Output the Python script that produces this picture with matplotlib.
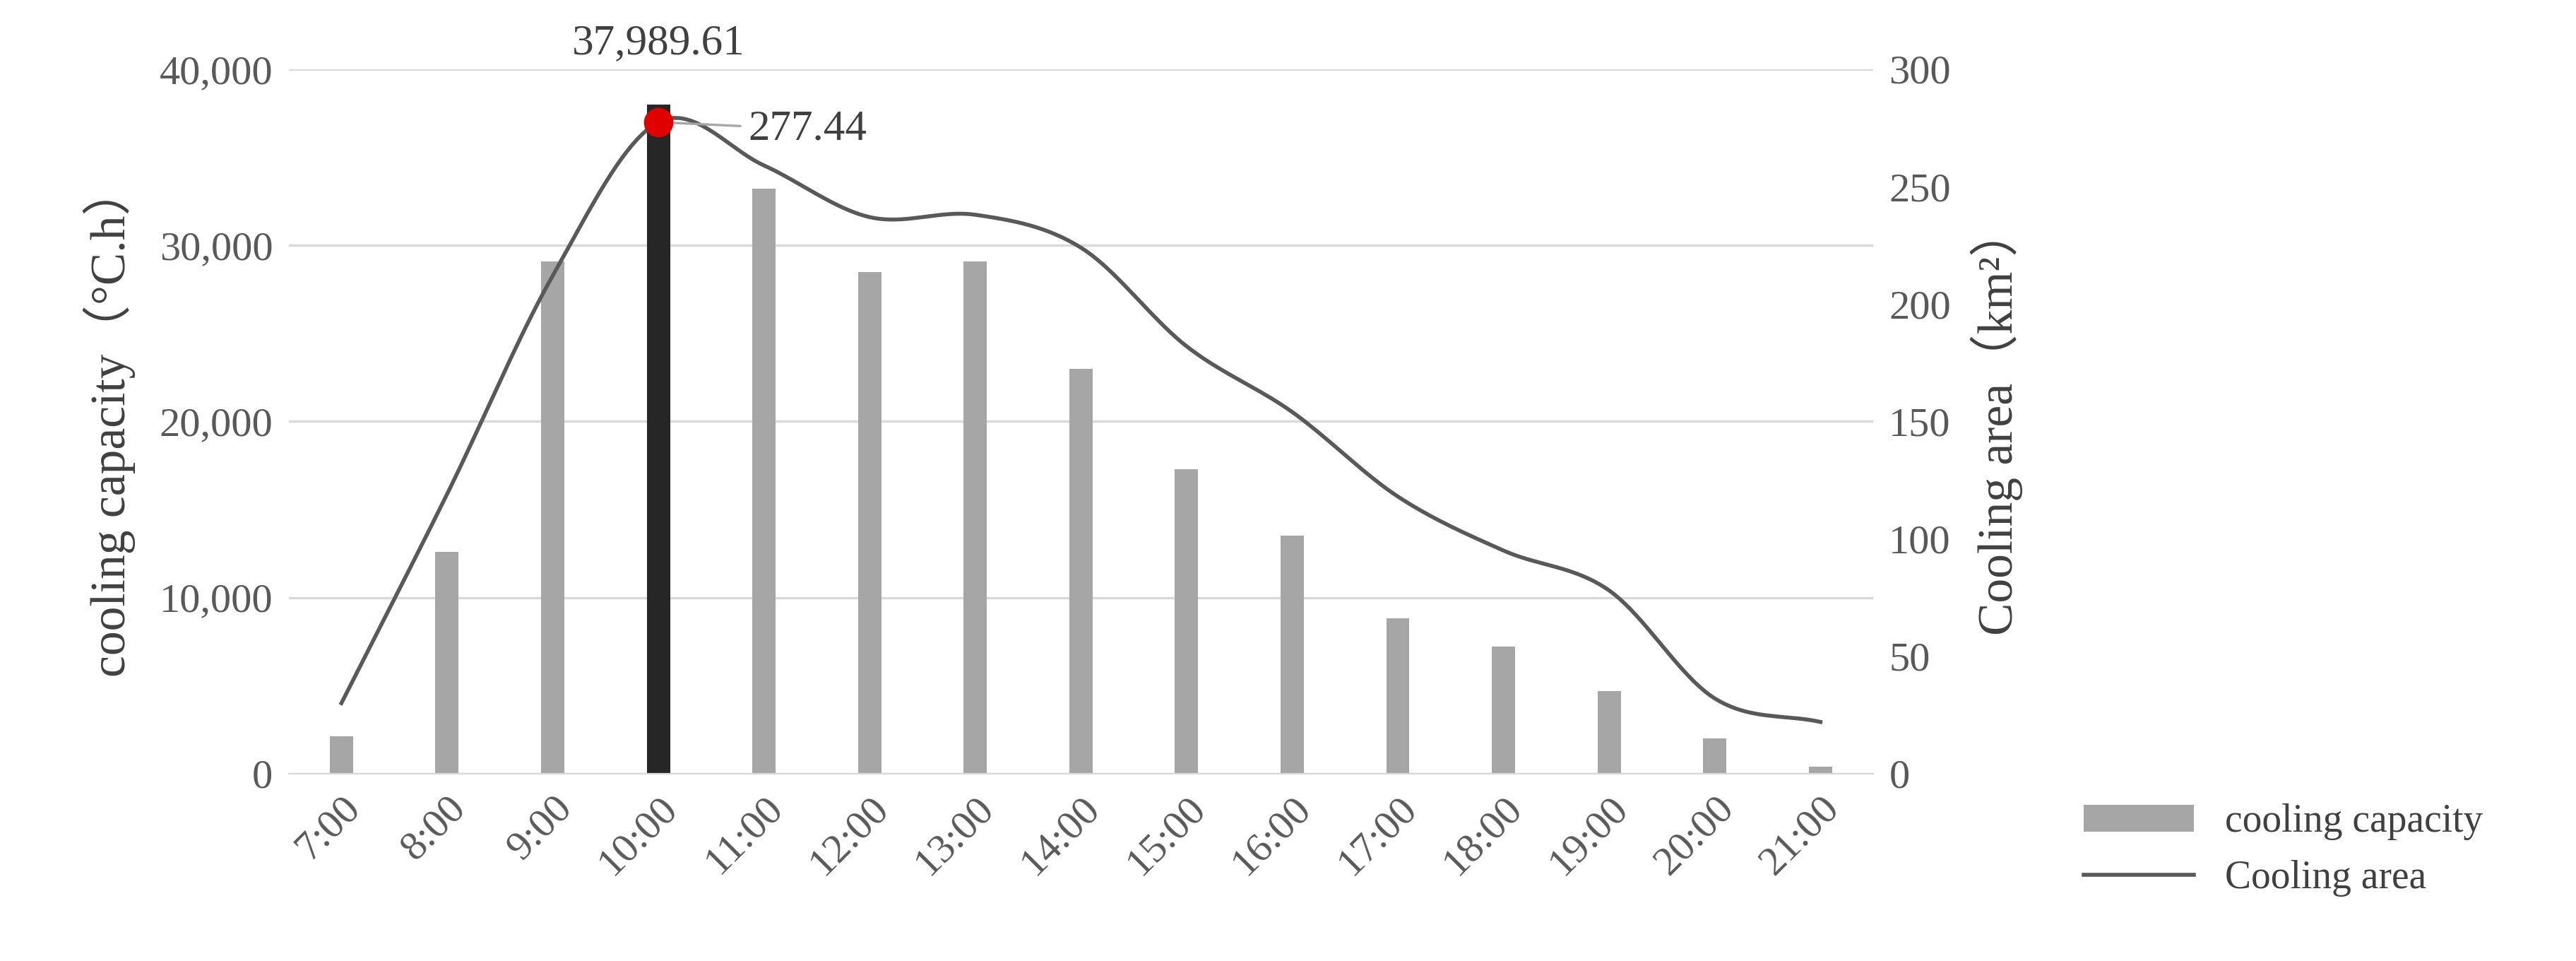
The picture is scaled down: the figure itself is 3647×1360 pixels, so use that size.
import numpy as np
import matplotlib.pyplot as plt
from matplotlib.ticker import FuncFormatter

hours = ["7:00", "8:00", "9:00", "10:00", "11:00", "12:00", "13:00", "14:00",
         "15:00", "16:00", "17:00", "18:00", "19:00", "20:00", "21:00"]
capacity = [2100, 12600, 29100, 37989.61, 33200, 28500, 29100, 23000,
            17300, 13500, 8800, 7200, 4700, 2000, 400]
area = [30, 119, 212, 277.44, 259, 237, 238, 224, 182, 154, 118, 95, 78, 32, 22]


def catmull(x, y, n=20):
    # smooth curve through the points, like the spreadsheet "smoothed line"
    px, py = [], []
    xs = np.concatenate([[2 * x[0] - x[1]], x, [2 * x[-1] - x[-2]]])
    ys = np.concatenate([[2 * y[0] - y[1]], y, [2 * y[-1] - y[-2]]])
    for i in range(1, len(xs) - 2):
        t = np.linspace(0, 1, n, endpoint=False)
        for arr, out in ((xs, px), (ys, py)):
            p0, p1, p2, p3 = arr[i - 1], arr[i], arr[i + 1], arr[i + 2]
            out.extend(0.5 * (2 * p1 + (-p0 + p2) * t
                              + (2 * p0 - 5 * p1 + 4 * p2 - p3) * t ** 2
                              + (-p0 + 3 * p1 - 3 * p2 + p3) * t ** 3))
    px.append(x[-1])
    py.append(y[-1])
    return np.array(px), np.array(py)


plt.rcParams["font.family"] = ["Liberation Serif", "DejaVu Serif"]
textColor = "#404040"

fig = plt.figure(figsize=(18.24, 6.8), dpi=200)
ax = fig.add_axes([0.112, 0.195, 0.615, 0.733])
ax2 = ax.twinx()

x = np.arange(len(hours))
peak = int(np.argmax(capacity))
colors = ["#a6a6a6"] * len(hours)
colors[peak] = "#262626"
ax.bar(x, capacity, width=0.22, color=colors, zorder=2, label="cooling capacity")
ax.set_ylim(0, 40000)
ax.set_yticks(range(0, 40001, 10000))
ax.yaxis.set_major_formatter(FuncFormatter(lambda v, p: f"{int(v):,}"))
ax.grid(axis="y", color="#d9d9d9", linewidth=1.2, zorder=0)
ax.set_xlim(-0.5, len(hours) - 0.5)
ax.set_xticks(x)
ax.set_xticklabels(hours, rotation=45, ha="right", rotation_mode="anchor")
ax.set_ylabel("cooling capacity（°C.h）", fontsize=25, color=textColor, labelpad=12,
              family=["Liberation Serif", "Noto Sans CJK SC"])

sx, sy = catmull(x.astype(float), np.array(area, dtype=float))
ax2.plot(sx, sy, color="#595959", linewidth=2, label="Cooling area")
ax2.plot(x[peak], area[peak], "o", color="#e00000", markersize=14, zorder=5)
ax2.set_ylim(0, 300)
ax2.set_yticks(range(0, 301, 50))
ax2.set_ylabel("Cooling area（km²）", fontsize=25, color=textColor, labelpad=10,
               family=["Liberation Serif", "Noto Sans CJK SC"])

ax.annotate(f"{capacity[peak]:,.2f}", (x[peak], capacity[peak]), xytext=(0, 26),
            textcoords="offset points", ha="center", fontsize=22, color=textColor)
ax2.annotate(f"{area[peak]:.2f}", (x[peak], area[peak]), xytext=(x[peak] + 0.85, area[peak] - 3),
             va="center", fontsize=22, color=textColor,
             arrowprops=dict(arrowstyle="-", color="#a6a6a6", lw=1.2))

for a in (ax, ax2):
    for s in a.spines.values():
        s.set_visible(False)
    a.tick_params(length=0, labelsize=21, colors="#595959", pad=8)
ax.spines["bottom"].set_visible(True)
ax.spines["bottom"].set_color("#d9d9d9")

h1, l1 = ax.get_legend_handles_labels()
h2, l2 = ax2.get_legend_handles_labels()
fig.legend(h1 + h2, l1 + l2, loc="lower left", bbox_to_anchor=(0.795, 0.03),
           frameon=False, fontsize=20, labelcolor=textColor, handlelength=2.8)

fig.savefig("out.png")
